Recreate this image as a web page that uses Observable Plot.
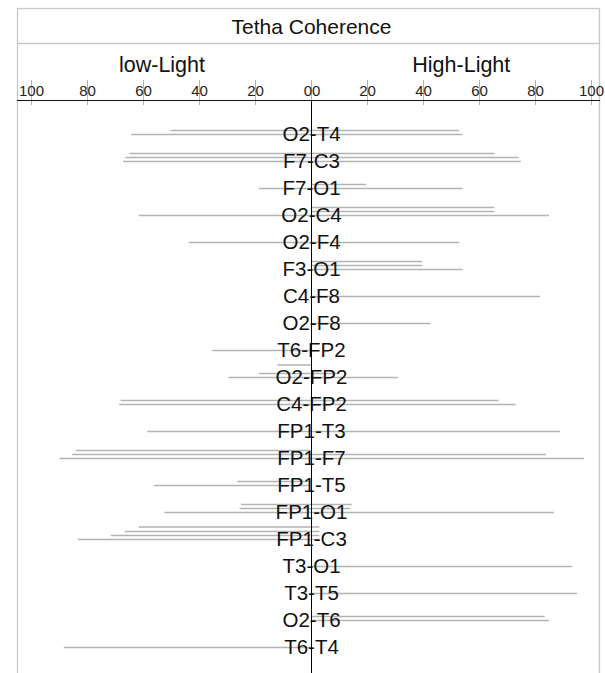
<!DOCTYPE html>
<html>
<head>
<meta charset="utf-8">
<script src="https://cdn.jsdelivr.net/npm/d3@7"></script>
<script src="https://cdn.jsdelivr.net/npm/@observablehq/plot@0.6"></script>
<style>
  html, body { margin: 0; padding: 0; background: #fff; }
  #chart { width: 605px; height: 673px; overflow: hidden; }
</style>
</head>
<body>
<div id="chart"></div>
<script>
// ---- data ----
const title = "Tetha Coherence";
const leftHeading = "low-Light";
const rightHeading = "High-Light";
const leftTicks = [100, 80, 60, 40, 20];
const rightTicks = [20, 40, 60, 80, 100];
const zeroTick = [0];

const pairs = ["O2-T4","F7-C3","F7-O1","O2-C4","O2-F4","F3-O1","C4-F8","O2-F8","T6-FP2","O2-FP2",
               "C4-FP2","FP1-T3","FP1-F7","FP1-T5","FP1-O1","FP1-C3","T3-O1","T3-T5","O2-T6","T6-T4"];

// low-light (left) and high-light (right) values, four series per pair (null = no line)
const low1  = [null,null,null,null,null,null,null,null,null,12,  null,null,null,null,null,61.5,null,null,null,null];
const high1 = [null,null,null,null,null,null,null,null,null,0,   null,null,null,null,null,3,   null,null,null,null];
const low2  = [null,64.8,null,0,   null,0,   null,null,null,null,null,null,84,  null,25,  66.5,null,null,null,null];
const high2 = [null,65.5,null,65.5,null,39.6,null,null,null,null,null,null,0,   null,14.5,3,   null,null,null,null];
const low3  = [50.2,66.3,0,   0,   null,0,   null,null,null,18.6,68,  null,85.3,26.3,25.5,71.5,null,null,0,   null];
const high3 = [52.9,74.1,19.7,65.5,null,39.6,null,null,null,10,  67,  null,84,  0,   14,  3,   null,null,83.5,null];
const low4  = [64.2,67.1,18.6,61.5,43.6,0,   0,   0,   35.3,29.5,68.5,58.5,89.8,56,  52.3,83.3,0,   0,   0,   88.3];
const high4 = [54.1,74.9,54.1,85,  52.9,54.1,81.8,42.6,0,   31,  73,  89,  97.5,0,   86.7,3,   93.3,95,  85,  0];

// ---- table built from the arrays ----
const lows = [low1, low2, low3, low4];
const highs = [high1, high2, high3, high4];
const table = [];
lows.forEach((lowArr, s) => {
  pairs.forEach((p, i) => {
    if (lowArr[i] != null) table.push({pair: p, series: s, low: lowArr[i], high: highs[s][i]});
  });
});

const font = "'Liberation Sans', Arial, Helvetica, sans-serif";
const seriesDy = [-12.5, -8, -4, 0];
const lineColor = "#b3b3b3";

const seriesMarks = seriesDy.map((dy, s) =>
  Plot.ruleY(table.filter(d => d.series === s), {
    y: "pair", x1: d => -d.low, x2: d => d.high, dy, stroke: lineColor, strokeWidth: 1.3
  })
);

const topAnchor = {frameAnchor: "top", lineAnchor: "middle"};

const chart = Plot.plot({
  width: 605,
  height: 673,
  marginLeft: 31,
  marginRight: 14,
  marginTop: 100,
  marginBottom: 0,
  style: {fontFamily: font, background: "#fff", color: "#111"},
  x: {domain: [-100, 100], axis: null},
  y: {type: "point", domain: pairs, range: [126.9, 654.6], padding: 0, axis: null},
  marks: [
    // box and title separator
    Plot.frame({stroke: "#c8c8c8", strokeWidth: 1.3, insetTop: -92, insetLeft: -14, insetRight: -8, insetBottom: -10}),
    Plot.frame({anchor: "top", stroke: "#c8c8c8", strokeWidth: 1.3, insetTop: -57, insetLeft: -14, insetRight: -8}),
    // title and headings
    Plot.text([title], {...topAnchor, dy: -73.4, fontSize: 21, fill: "#111"}),
    Plot.text([leftHeading], {...topAnchor, x: -53.4, dy: -35.3, fontSize: 21.5, fill: "#111"}),
    Plot.text([rightHeading], {...topAnchor, x: 53.5, dy: -35.3, fontSize: 21.5, fill: "#111"}),
    // axis ticks
    Plot.tickX([...leftTicks.map(d => -d), 0, ...rightTicks], {x: d => d, insetTop: -20, insetBottom: 568, stroke: "#b0b0b0"}),
    // tick labels
    Plot.text(leftTicks, {...topAnchor, x: d => -d, text: d => String(d), dy: -9.8, fontSize: 15, fill: "#222"}),
    Plot.text(rightTicks, {...topAnchor, x: d => d, text: d => String(d), dy: -9.8, fontSize: 15, fill: "#222"}),
    Plot.text(zeroTick, {...topAnchor, x: d => -d, text: d => String(d), dy: -9.8, dx: 0.5, textAnchor: "end", fontSize: 15, fill: "#222"}),
    Plot.text(zeroTick, {...topAnchor, x: d => d, text: d => String(d), dy: -9.8, dx: 0.5, textAnchor: "start", fontSize: 15, fill: "#222"}),
    // axis line
    Plot.frame({anchor: "top", stroke: "#111", strokeWidth: 1.2, insetLeft: -14, insetRight: -8}),
    // coherence lines
    ...seriesMarks,
    // pair labels
    Plot.text(pairs, {y: d => d, text: d => d, x: 0, fontSize: 20.5, fill: "#111"}),
    // centre line
    Plot.ruleX([0], {stroke: "#000", strokeWidth: 1})
  ]
});

document.getElementById("chart").appendChild(chart);
</script>
</body>
</html>
